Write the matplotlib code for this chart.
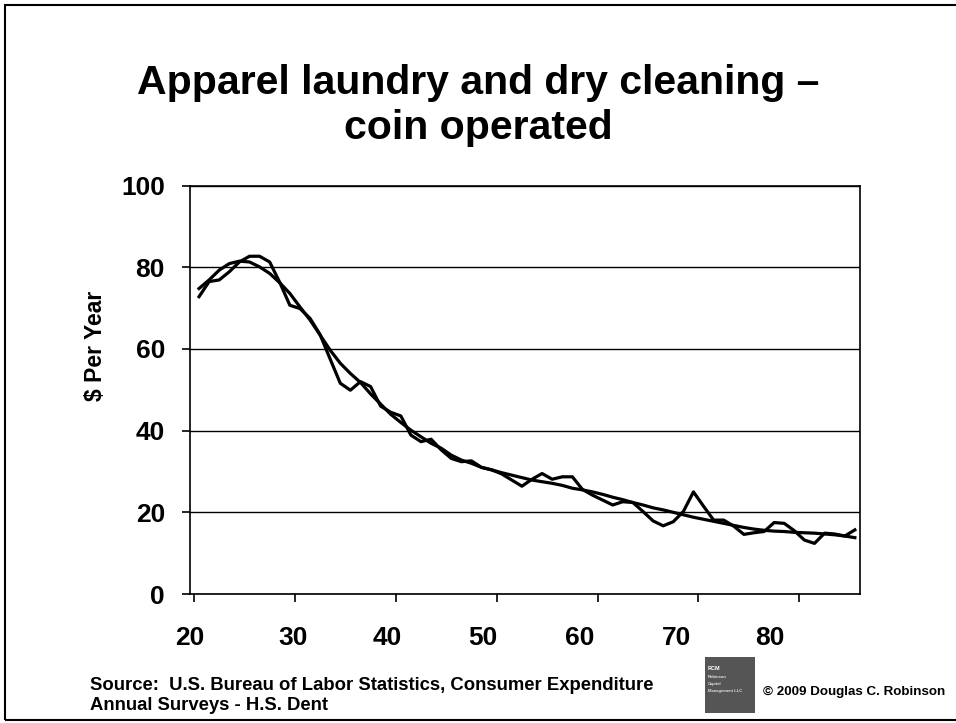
import matplotlib
matplotlib.use("Agg")
import matplotlib.pyplot as plt
from matplotlib.patches import Rectangle

plt.rcParams['font.family'] = ['Liberation Sans', 'DejaVu Sans']
plt.rcParams['font.weight'] = 'bold'

# age of householder
ages = list(range(20, 86))
# actual annual spending, $ per year
spending = [72.8, 76.5, 76.9, 78.9, 81.3, 82.7, 82.7, 81.3, 76.3, 70.7,
            69.9, 67.5, 63.5, 57.5, 51.6, 49.9, 52.0, 50.8, 46.0, 44.5,
            43.6, 38.9, 37.3, 37.9, 35.3, 33.2, 32.4, 32.6, 31.0, 30.4,
            29.4, 27.9, 26.4, 28.1, 29.5, 28.1, 28.7, 28.7, 25.6, 24.2,
            23.0, 21.8, 22.6, 22.4, 20.2, 17.9, 16.7, 17.7, 20.2, 25.0,
            21.5, 18.1, 18.1, 16.6, 14.6, 15.0, 15.3, 17.5, 17.3, 15.5,
            13.2, 12.4, 14.9, 14.7, 14.2, 15.7]
# smoothed trend
trend = [74.8, 76.9, 79.3, 80.9, 81.5, 81.3, 80.1, 78.5, 76.2, 73.6,
         70.3, 67.1, 63.4, 59.7, 56.5, 54.0, 51.8, 49.0, 46.5, 44.0,
         42.0, 40.1, 38.5, 36.9, 35.7, 34.0, 32.8, 32.0, 31.0, 30.4,
         29.7, 29.1, 28.5, 27.9, 27.5, 27.1, 26.6, 25.9, 25.5, 25.0,
         24.4, 23.7, 23.1, 22.4, 21.8, 21.1, 20.6, 20.0, 19.4, 18.8,
         18.3, 17.8, 17.3, 16.8, 16.3, 15.9, 15.6, 15.4, 15.3, 15.1,
         15.0, 14.9, 14.7, 14.5, 14.2, 13.8]

xlabels = ['20', '30', '40', '50', '60', '70', '80']
ylabels = ['0', '20', '40', '60', '80', '100']

fig = plt.figure(figsize=(9.56, 7.23), dpi=100)

# slide frame
fig.patches.append(Rectangle((5 / 956, 3 / 723), 1.0, 1 - 8 / 723,
                             transform=fig.transFigure, fill=False,
                             edgecolor='black', linewidth=1.5))

ax = fig.add_axes([0.1987, 0.1784, 0.7008, 0.5649])
ax.plot(ages, spending, color='black', linewidth=2.3)
ax.plot(ages, trend, color='black', linewidth=2.3)

ax.set_xlim(19.5, 85.5)
ax.set_ylim(0, 100)

# tick marks between categories, every 10 years
ax.set_xticks([19.5 + 10 * i for i in range(7)])
ax.set_xticklabels([])
ax.tick_params(axis='x', direction='out', length=6, width=1.2)
# labels sit a bit off the ticks in the original slide
label_pos = [19.1, 29.3, 38.7, 48.1, 57.7, 67.3, 76.6]
ax.set_xticks(label_pos, minor=True)
ax.set_xticklabels(xlabels, minor=True, fontsize=19, fontweight='bold')
ax.tick_params(axis='x', which='minor', length=0, pad=23)

ax.set_yticks([0, 20, 40, 60, 80, 100])
ax.set_yticklabels(ylabels, fontsize=19, fontweight='bold')
ax.tick_params(axis='y', direction='out', length=6, width=1.2, pad=12)

ax.grid(axis='y', color='black', linewidth=1)
ax.set_axisbelow(True)
for s in ax.spines.values():
    s.set_linewidth(1.2)

fig.text(95 / 956, 1 - 346 / 723, '$ Per Year', rotation=90, fontsize=16.5,
         fontweight='bold', ha='center', va='center')

fig.text(478 / 956, 1 - 83 / 723, 'Apparel laundry and dry cleaning \u2013',
         fontsize=29.5, fontweight='bold', ha='center', va='center')
fig.text(478 / 956, 1 - 128 / 723, 'coin operated',
         fontsize=29.5, fontweight='bold', ha='center', va='center')

fig.text(90 / 956, 1 - 686 / 723,
         'Source:  U.S. Bureau of Labor Statistics, Consumer Expenditure',
         fontsize=13.3, fontweight='bold', ha='left', va='center')
fig.text(90 / 956, 1 - 706 / 723, 'Annual Surveys - H.S. Dent',
         fontsize=13.3, fontweight='bold', ha='left', va='center')

# small logo box
fig.patches.append(Rectangle((705 / 956, 1 - 713 / 723), 50 / 956, 56 / 723,
                             transform=fig.transFigure, facecolor='#555555',
                             edgecolor='none'))
fig.text(708 / 956, 1 - 668 / 723, 'RCM', fontsize=4, color='white',
         fontweight='bold', va='center')
for i, t in enumerate(['Robinson', 'Capital', 'Management LLC']):
    fig.text(708 / 956, 1 - (677 + 7 * i) / 723, t, fontsize=3,
             color='#dddddd', va='center')

fig.text(763 / 956, 1 - 692 / 723, '\u00a9 2009 Douglas C. Robinson',
         fontsize=9.6, fontweight='bold', ha='left', va='center')

fig.savefig('out.png', dpi=100)
